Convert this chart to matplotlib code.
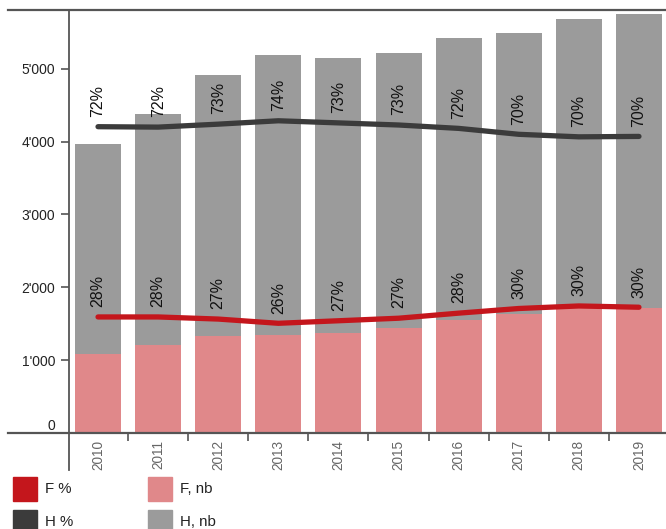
import matplotlib.pyplot as plt
from matplotlib.lines import Line2D
from matplotlib.patches import Rectangle
from matplotlib.ticker import FuncFormatter

plt.rcParams['font.family'] = ['Liberation Sans', 'DejaVu Sans']

years = ['2010', '2011', '2012', '2013', '2014', '2015', '2016', '2017', '2018', '2019']
f_nb = [1087, 1206, 1325, 1343, 1371, 1444, 1554, 1628, 1733, 1719]
h_nb = [2880, 3173, 3590, 3847, 3777, 3773, 3869, 3864, 3951, 4034]
f_pct = [27.4, 27.4, 26.9, 25.9, 26.5, 27.1, 28.3, 29.4, 30.0, 29.7]
h_pct = [72.4, 72.3, 73.0, 73.8, 73.3, 72.8, 72.0, 70.6, 70.0, 70.1]
f_pct_labels = ['28%', '28%', '27%', '26%', '27%', '27%', '28%', '30%', '30%', '30%']
h_pct_labels = ['72%', '72%', '73%', '74%', '73%', '73%', '72%', '70%', '70%', '70%']

legend_labels = ['F %', 'F, nb', 'H %', 'H, nb']

RED = '#C4161C'
DARK = '#3B3B3B'
PINK = '#E0888A'
GREY = '#9B9B9B'
AXC = '#555555'

W, H = 666, 529
fig = plt.figure(figsize=(W / 100, H / 100), dpi=100)
ax = fig.add_axes([69 / W, (H - 432.8) / H, (W - 69) / W, 422.8 / H])
ax2 = ax.twinx()

x = list(range(len(years)))
ax.bar(x, f_nb, width=0.765, color=PINK, zorder=2)
ax.bar(x, h_nb, width=0.765, bottom=f_nb, color=GREY, zorder=2)

ax2.plot(x, f_pct, color=RED, lw=3.8, solid_capstyle='round', solid_joinstyle='round')
ax2.plot(x, h_pct, color=DARK, lw=3.8, solid_capstyle='round', solid_joinstyle='round')
for xi, v, s in zip(x, f_pct, f_pct_labels):
    ax2.annotate(s, (xi, v), xytext=(0, 7), textcoords='offset points', rotation=90,
                 ha='center', va='bottom', fontsize=11.5, color='#111111')
for xi, v, s in zip(x, h_pct, h_pct_labels):
    ax2.annotate(s, (xi, v), xytext=(0, 7), textcoords='offset points', rotation=90,
                 ha='center', va='bottom', fontsize=11.5, color='#111111')

ax.set_xlim(-0.483, 9.45)
ax.set_ylim(0, 5808)
ax2.set_ylim(0, 100)
ax2.set_yticks([])

for a in (ax, ax2):
    for sp in a.spines.values():
        sp.set_visible(False)

ax.set_yticks([0, 1000, 2000, 3000, 4000, 5000])
ax.yaxis.set_major_formatter(FuncFormatter(lambda v, p: f'{int(v):,}'.replace(',', "'")))
ax.tick_params(axis='y', length=6, width=1.2, color=AXC, pad=4, labelsize=10, labelcolor='#222222')
ax.get_yticklabels()[0].set_verticalalignment('bottom')

ax.set_xticks(x)
ax.set_xticklabels(years, rotation=90, color='#666666', fontsize=9.8)
ax.tick_params(axis='x', which='major', length=0, pad=5)
ax.set_xticks([i + 0.5 for i in x[:-1]], minor=True)
ax.tick_params(axis='x', which='minor', length=6, width=1.2, color=AXC)

# frame lines drawn in figure pixels
def fig_line(x0, y0, x1, y1, lw):
    fig.add_artist(Line2D([x0 / W, x1 / W], [1 - y0 / H, 1 - y1 / H],
                          color=AXC, lw=lw, transform=fig.transFigure))

fig_line(8, 10, W, 10, 1.6)
fig_line(8, 432.8, W, 432.8, 1.6)
fig_line(69, 10, 69, 470, 1.3)

# legend
legend_colors = [RED, PINK, DARK, GREY]
legend_pos = [(13, 477), (148, 477), (13, 510), (148, 510)]
for (lx, ly), c, lab in zip(legend_pos, legend_colors, legend_labels):
    fig.add_artist(Rectangle((lx / W, 1 - (ly + 24) / H), 24 / W, 24 / H,
                             color=c, transform=fig.transFigure))
    fig.text((lx + 32) / W, 1 - (ly + 12) / H, lab, ha='left', va='center',
             fontsize=10.8, color='#222222')

fig.savefig('out.png', dpi=100)
